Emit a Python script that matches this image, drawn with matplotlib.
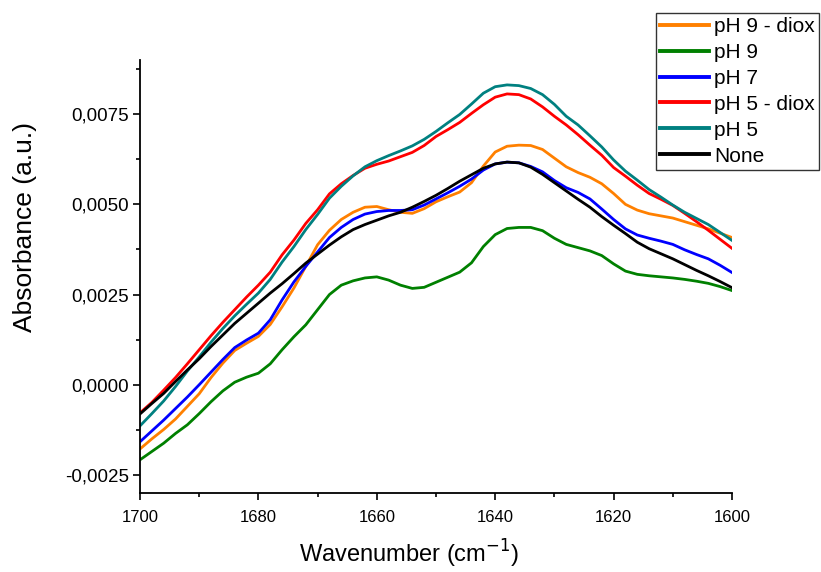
import matplotlib
matplotlib.use("Agg")
import matplotlib.pyplot as plt
import numpy as np
from matplotlib.ticker import MultipleLocator, FuncFormatter

plt.rcParams['font.family'] = ['Liberation Sans', 'DejaVu Sans']

# wavenumber grid (cm-1), step 2
wn = np.arange(1700, 1599, -2)

ph9_diox = [-0.00178, -0.00150, -0.00124, -0.00095, -0.00060, -0.00025, 0.00020, 0.00060, 0.00095, 0.00115,
            0.00134, 0.00167, 0.00216, 0.00268, 0.00328, 0.00388, 0.00428, 0.00458, 0.00478, 0.00492,
            0.00494, 0.00485, 0.00478, 0.00475, 0.00488, 0.00507, 0.00521, 0.00534, 0.00560, 0.00606,
            0.00645, 0.00661, 0.00664, 0.00663, 0.00652, 0.00628, 0.00604, 0.00588, 0.00575, 0.00557,
            0.00530, 0.00500, 0.00484, 0.00474, 0.00468, 0.00462, 0.00452, 0.00442, 0.00432, 0.00420,
            0.00408]
ph9 = [-0.00208, -0.00185, -0.00162, -0.00135, -0.00111, -0.00080, -0.00047, -0.00017, 0.00007, 0.00021,
       0.00032, 0.00058, 0.00097, 0.00133, 0.00166, 0.00208, 0.00250, 0.00276, 0.00288, 0.00296,
       0.00299, 0.00290, 0.00276, 0.00267, 0.00270, 0.00284, 0.00298, 0.00312, 0.00338, 0.00383,
       0.00416, 0.00433, 0.00436, 0.00436, 0.00427, 0.00406, 0.00389, 0.00380, 0.00371, 0.00358,
       0.00335, 0.00315, 0.00306, 0.00302, 0.00299, 0.00296, 0.00292, 0.00287, 0.00281, 0.00272,
       0.00261]
ph7 = [-0.00158, -0.00128, -0.00098, -0.00066, -0.00034, 0.00000, 0.00035, 0.00070, 0.00103, 0.00124,
       0.00143, 0.00180, 0.00235, 0.00285, 0.00328, 0.00368, 0.00408, 0.00436, 0.00458, 0.00473,
       0.00480, 0.00483, 0.00483, 0.00485, 0.00498, 0.00515, 0.00532, 0.00550, 0.00570, 0.00595,
       0.00612, 0.00617, 0.00615, 0.00605, 0.00590, 0.00566, 0.00546, 0.00533, 0.00515, 0.00487,
       0.00458, 0.00432, 0.00415, 0.00406, 0.00398, 0.00389, 0.00374, 0.00361, 0.00349, 0.00331,
       0.00311]
ph5_diox = [-0.00078, -0.00049, -0.00015, 0.00020, 0.00058, 0.00097, 0.00136, 0.00173, 0.00208, 0.00243,
            0.00276, 0.00312, 0.00360, 0.00401, 0.00447, 0.00485, 0.00529, 0.00557, 0.00580, 0.00600,
            0.00611, 0.00620, 0.00632, 0.00644, 0.00663, 0.00688, 0.00707, 0.00727, 0.00752, 0.00776,
            0.00797, 0.00806, 0.00804, 0.00792, 0.00770, 0.00744, 0.00720, 0.00693, 0.00664, 0.00636,
            0.00602, 0.00578, 0.00553, 0.00530, 0.00514, 0.00497, 0.00475, 0.00452, 0.00428, 0.00403,
            0.00378]
ph5 = [-0.00114, -0.00080, -0.00045, -0.00005, 0.00038, 0.00077, 0.00118, 0.00156, 0.00191, 0.00223,
       0.00254, 0.00292, 0.00340, 0.00383, 0.00430, 0.00472, 0.00517, 0.00550, 0.00579, 0.00604,
       0.00621, 0.00635, 0.00648, 0.00662, 0.00680, 0.00702, 0.00726, 0.00749, 0.00778, 0.00808,
       0.00826, 0.00831, 0.00829, 0.00821, 0.00804, 0.00777, 0.00744, 0.00720, 0.00690, 0.00659,
       0.00623, 0.00592, 0.00567, 0.00541, 0.00520, 0.00498, 0.00478, 0.00461, 0.00444, 0.00422,
       0.00400]
none = [-0.00081, -0.00052, -0.00024, 0.00009, 0.00041, 0.00072, 0.00106, 0.00138, 0.00170, 0.00198,
        0.00226, 0.00254, 0.00280, 0.00308, 0.00337, 0.00362, 0.00387, 0.00410, 0.00430, 0.00444,
        0.00456, 0.00468, 0.00478, 0.00492, 0.00508, 0.00525, 0.00544, 0.00564, 0.00582, 0.00600,
        0.00612, 0.00617, 0.00615, 0.00603, 0.00583, 0.00560, 0.00537, 0.00514, 0.00492, 0.00466,
        0.00442, 0.00419, 0.00395, 0.00377, 0.00363, 0.00349, 0.00333, 0.00317, 0.00302, 0.00286,
        0.00269]

labels = ['pH 9 - diox', 'pH 9', 'pH 7', 'pH 5 - diox', 'pH 5', 'None']
series = [ph9_diox, ph9, ph7, ph5_diox, ph5, none]
colors = ['#FF8000', '#008000', '#0000FF', '#FF0000', '#008080', '#000000']

fig = plt.figure(figsize=(8.21, 5.72), dpi=100)
ax = fig.add_axes([140/821, 1-493/572, (732-140)/821, (493-60)/572])

for ys, lab, c in zip(series, labels, colors):
    ax.plot(wn, ys, color=c, lw=2.0, label=lab)

ax.set_xlim(1700, 1600)
ax.set_ylim(-0.003, 0.009)

ax.spines['top'].set_visible(False)
ax.spines['right'].set_visible(False)
for s in ['left', 'bottom']:
    ax.spines[s].set_linewidth(1.3)

ax.xaxis.set_major_locator(MultipleLocator(20))
ax.xaxis.set_minor_locator(MultipleLocator(10))
ax.yaxis.set_major_locator(MultipleLocator(0.0025))
ax.yaxis.set_minor_locator(MultipleLocator(0.00125))
ax.yaxis.set_major_formatter(FuncFormatter(lambda v, p: ('%.4f' % v).replace('.', ',').replace('-0,0000', '0,0000')))
ax.tick_params(which='major', direction='out', length=5, width=1.2)
ax.tick_params(which='minor', direction='out', length=3, width=1.2)
ax.tick_params(axis='y', labelsize=13.5, pad=3)
ax.tick_params(axis='x', labelsize=12, pad=7)

ax.set_xlabel('Wavenumber (cm$^{-1}$)', fontsize=17)
ax.set_ylabel('Absorbance (a.u.)', fontsize=19)
ax.xaxis.set_label_coords(0.454, -0.104)
ax.yaxis.set_label_coords(-0.174, 0.615)

leg = fig.legend(loc='upper left', bbox_to_anchor=(656/821, 1-13/572), borderaxespad=0,
                 fontsize=15, handlelength=2.35, handletextpad=0.24, labelspacing=0.33,
                 borderpad=0.2, fancybox=False, frameon=True)
leg.get_frame().set_edgecolor('black')
leg.get_frame().set_linewidth(1.0)
for l in leg.get_lines():
    l.set_linewidth(2.8)

fig.savefig('out.png', dpi=100)
